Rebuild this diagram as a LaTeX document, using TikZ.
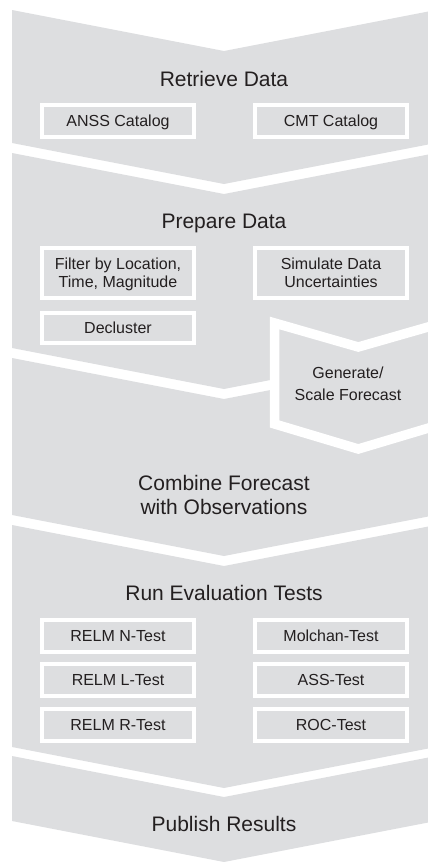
\documentclass[tikz,border=0pt]{standalone}
\usepackage{fontspec}
\setmainfont{Liberation Sans}
\definecolor{bandgray}{RGB}{221,222,224}
\definecolor{ink}{RGB}{35,31,32}
% a line of text whose box is exactly as tall as its capitals
\newcommand{\capline}[1]{\raisebox{0pt}[0.716em][0pt]{#1}}

\begin{document}
\begin{tikzpicture}[x=1pt,y=-1pt,
  band/.style={fill=bandgray},
  title/.style={font=\fontsize{21}{24}\selectfont, text=ink, align=center, inner sep=0pt},
  task/.style={draw=white, line width=4pt, minimum width=152pt, minimum height=32pt,
               inner sep=0pt, font=\fontsize{16}{18}\selectfont, text=ink, align=center},
]
\useasboundingbox (0,0) rectangle (428,862);
\clip (0,0) rectangle (428,862);

% the five stacked chevron bands (top edge / bottom edge at the left side)
\foreach \t/\b in {10/143, 153/348, 358/515, 525/747, 756/821}
  \fill[band] (12,\t) -- (224,\t+41) -- (436,\t) -- (436,\b) -- (224,\b+41) -- (12,\b) -- cycle;

% the side chevron for forecast generation
\filldraw[fill=bandgray, draw=white, line width=9.5pt, line join=miter]
  (274.7,323) -- (358.3,347) -- (442,323) -- (442,424) -- (358.3,449) -- (274.7,424) -- cycle;

% stage 1
\node[title] (retrieve) at (224,79) {\capline{Retrieve Data}};
\node[task] (anss) at (118,121) {\capline{ANSS Catalog}};
\node[task] (cmt) at (331,121) {\capline{CMT Catalog}};

% stage 2
\node[title] (prepare) at (224,221) {\capline{Prepare Data}};
\node[task, minimum height=50pt] (filter) at (118,273) {\capline{Filter by Location,}\\\capline{Time, Magnitude}};
\node[task, minimum height=50pt] (simulate) at (331,273) {\capline{Simulate Data}\\\capline{Uncertainties}};
\node[task, minimum height=30pt] (decluster) at (118,327.5) {\capline{Decluster}};
\node[title, font=\fontsize{16}{22}\selectfont] (generate) at (348,383.5) {\capline{Generate/}\\\capline{Scale Forecast}};

% stage 3
\node[title] (combine) at (224,494.7) {\capline{Combine Forecast}\\\capline{with Observations}};

% stage 4
\node[title] (evaluate) at (224,593.3) {\capline{Run Evaluation Tests}};
\node[task] (ntest) at (118,635.5) {\capline{RELM N-Test}};
\node[task] (molchan) at (331,635.5) {\capline{Molchan-Test}};
\node[task] (ltest) at (118,680.2) {\capline{RELM L-Test}};
\node[task] (ass) at (331,680.2) {\capline{ASS-Test}};
\node[task] (rtest) at (118,724.5) {\capline{RELM R-Test}};
\node[task] (roc) at (331,724.5) {\capline{ROC-Test}};

% stage 5
\node[title] (publish) at (224,824) {\capline{Publish Results}};
\end{tikzpicture}
\end{document}
